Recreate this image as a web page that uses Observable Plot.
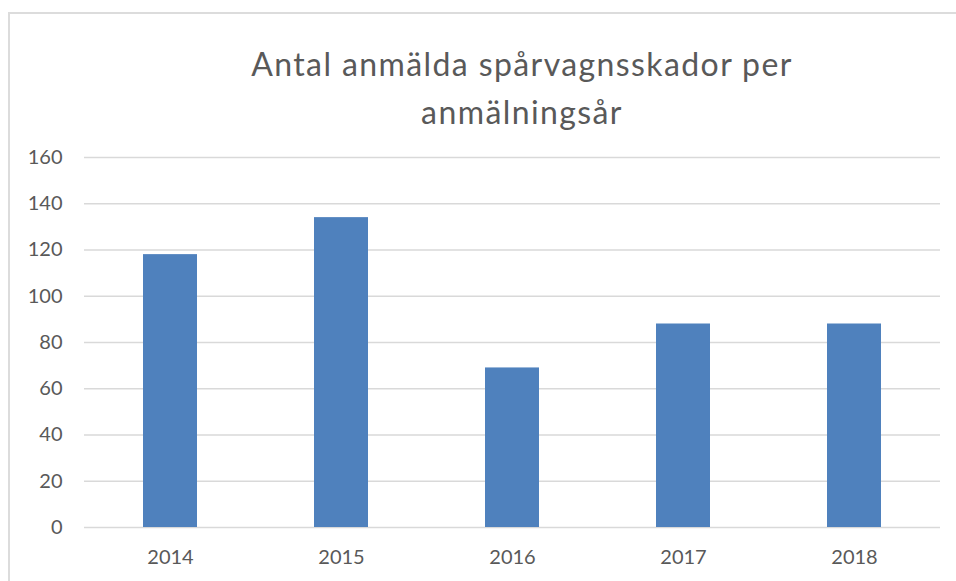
<!DOCTYPE html>
<html>
<head>
<meta charset="utf-8">
<script src="https://cdn.jsdelivr.net/npm/d3@7"></script>
<script src="https://cdn.jsdelivr.net/npm/@observablehq/plot@0.6"></script>
<style>
  html, body { margin: 0; padding: 0; background: #fff; width: 956px; height: 581px; overflow: hidden; }
  #frame { position: absolute; left: 8px; top: 12px; width: 1000px; height: 700px;
           border-top: 2px solid #dcdcdc; border-left: 2px solid #dcdcdc; box-sizing: border-box; }
  #title { position: absolute; left: 0; top: 40px; width: 1044px; text-align: center;
           font-family: Lato, sans-serif; font-size: 32px; line-height: 48px; color: #595959;
           letter-spacing: 1.4px; font-weight: 400; }
  #title span { display: block; }
  #chart { position: absolute; left: 0; top: 140px; }
</style>
</head>
<body>
<div id="frame"></div>
<div id="title"></div>
<div id="chart"></div>
<script>
const titleLines = ["Antal anmälda spårvagnsskador per", "anmälningsår"];
const years = ["2014", "2015", "2016", "2017", "2018"];
const counts = [118, 134, 69, 88, 88];
const yTicks = [0, 20, 40, 60, 80, 100, 120, 140, 160];

const titleEl = document.getElementById("title");
titleLines.forEach(t => { const s = document.createElement("span"); s.textContent = t; titleEl.appendChild(s); });

const data = years.map((y, i) => ({year: y, count: counts[i]}));

const chart = Plot.plot({
  width: 956,
  height: 441,
  marginTop: 17,
  marginBottom: 54,
  marginLeft: 84,
  marginRight: 16,
  style: {fontFamily: "Lato, sans-serif", fontSize: "20px", color: "#595959", background: "transparent"},
  x: {domain: years, paddingInner: 0.684, paddingOuter: 0.342, label: null},
  y: {domain: [0, 160], label: null},
  marks: [
    Plot.gridY(yTicks, {stroke: "#d9d9d9", strokeOpacity: 1, strokeWidth: 1.5}),
    Plot.barY(data, {x: "year", y: "count", fill: "#4f81bd"}),
    Plot.axisY(yTicks, {tickSize: 0, tickPadding: 22, label: null, fill: "#595959"}),
    Plot.axisX({tickSize: 0, tickPadding: 22, label: null, fill: "#595959"})
  ]
});
document.getElementById("chart").appendChild(chart);
</script>
</body>
</html>
